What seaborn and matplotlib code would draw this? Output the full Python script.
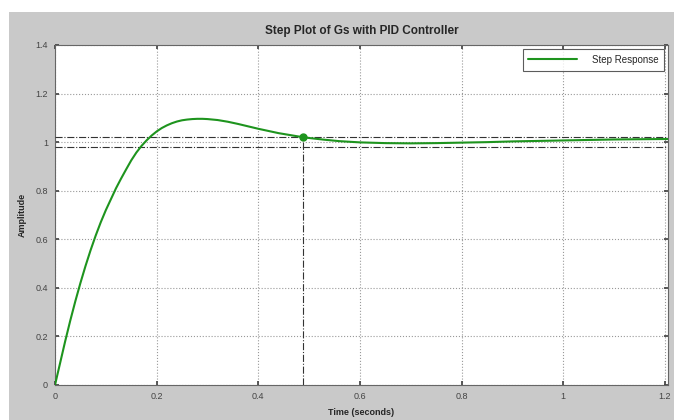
import matplotlib
matplotlib.use("Agg")
import matplotlib.pyplot as plt
import pandas as pd
import seaborn as sns
from matplotlib.patches import Rectangle

sns.set_theme(style="white")
plt.rcParams['font.family'] = ['Liberation Sans', 'DejaVu Sans']

# step response
time_s = [0.0, 0.01, 0.02, 0.03, 0.04, 0.05, 0.06, 0.07, 0.08, 0.09, 0.10,
          0.11, 0.12, 0.13, 0.14, 0.15, 0.16, 0.17, 0.18, 0.19, 0.20, 0.21,
          0.22, 0.23, 0.24, 0.25, 0.26, 0.27, 0.28, 0.29, 0.30, 0.32, 0.34,
          0.36, 0.38, 0.40, 0.42, 0.44, 0.46, 0.48, 0.50, 0.53, 0.56, 0.60,
          0.65, 0.70, 0.75, 0.80, 0.85, 0.90, 0.95, 1.00, 1.05, 1.10, 1.15, 1.21]
amplitude = [0.0, 0.09, 0.18, 0.265, 0.345, 0.42, 0.49, 0.555, 0.615, 0.67, 0.72,
             0.765, 0.81, 0.85, 0.888, 0.925, 0.957, 0.984, 1.007, 1.027, 1.044, 1.058,
             1.069, 1.078, 1.085, 1.090, 1.093, 1.095, 1.096, 1.096, 1.095, 1.091, 1.084,
             1.075, 1.065, 1.055, 1.046, 1.037, 1.030, 1.023, 1.017, 1.010, 1.004, 0.999,
             0.996, 0.995, 0.996, 0.998, 1.000, 1.003, 1.005, 1.007, 1.009, 1.011, 1.012, 1.013]

settle_time = 0.488
settle_value = 1.021
band = [1.02, 0.98]

x_ticks = [0, 0.2, 0.4, 0.6, 0.8, 1, 1.2]
x_labels = ["0", "0.2", "0.4", "0.6", "0.8", "1", "1.2"]
y_ticks = [0, 0.2, 0.4, 0.6, 0.8, 1, 1.2, 1.4]
y_labels = ["0", "0.2", "0.4", "0.6", "0.8", "1", "1.2", "1.4"]

green = "#1e941e"
gray_bg = "#c9c9c9"

df = pd.DataFrame({"t": time_s, "y": amplitude})

fig = plt.figure(figsize=(6.74, 4.2), dpi=100, facecolor="white")
fig.patches.append(Rectangle((9 / 674, 0), 1, (420 - 12) / 420, transform=fig.transFigure,
                             facecolor=gray_bg, edgecolor="none", zorder=-1))
ax = fig.add_axes([55 / 674, 35 / 420, (668 - 55) / 674, (385 - 45) / 420])
ax.set_facecolor("white")

sns.lineplot(data=df, x="t", y="y", ax=ax, color=green, linewidth=1.5,
             label="Step Response", zorder=5)

for b in band:
    ax.axhline(b, color="#333333", linestyle="-.", linewidth=0.8, zorder=3)
ax.plot([settle_time, settle_time], [0, settle_value], color="#333333",
        linestyle="-.", linewidth=0.8, zorder=3)
ax.plot([settle_time], [settle_value], marker="o", markersize=5, color=green, zorder=6)

ax.set_xlim(0, 1.206)
ax.set_ylim(0, 1.4)
ax.set_xticks(x_ticks)
ax.set_xticklabels(x_labels)
ax.set_yticks(y_ticks)
ax.set_yticklabels(y_labels)
ax.grid(True, color="#999999", linestyle=":", linewidth=0.8)
ax.tick_params(direction="in", length=3, labelsize=6.5, colors="#444444", pad=5,
               bottom=True, left=True, top=True, right=True)
for s in ax.spines.values():
    s.set_color("#666666")
    s.set_linewidth(0.8)

ax.set_title("Step Plot of Gs with PID Controller", fontsize=8.5, fontweight="bold", pad=8)
ax.set_xlabel("Time (seconds)", fontsize=6.5, fontweight="bold", labelpad=5)
ax.set_ylabel("Amplitude", fontsize=6.5, fontweight="bold", labelpad=6)

leg = ax.legend(loc="upper right", fontsize=7, frameon=True, fancybox=False,
                borderaxespad=0.4, handlelength=5, borderpad=0.6, handletextpad=1.5)
leg.get_frame().set_edgecolor("#333333")
leg.get_frame().set_linewidth(0.8)

fig.savefig("out.png", dpi=100, facecolor=fig.get_facecolor())
